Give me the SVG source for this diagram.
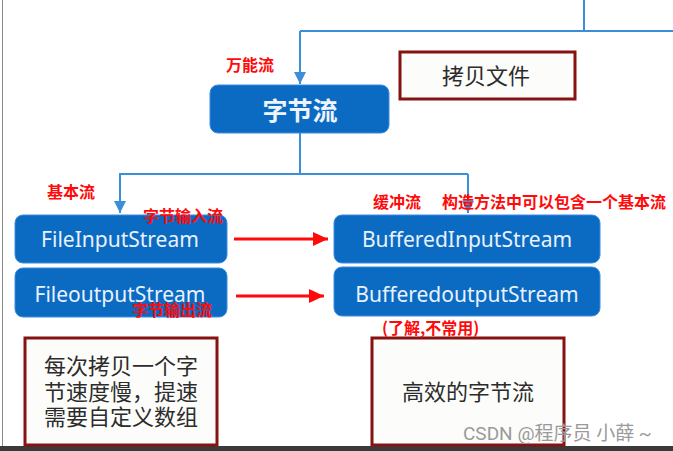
<svg xmlns="http://www.w3.org/2000/svg" width="673" height="451" viewBox="0 0 673 451">
<style>
.blue{fill:#0b6bc3;stroke:#3d8ce0;stroke-width:1}
.wht{fill:#fcfcfa;stroke:#861212;stroke-width:3}
.conn{fill:none;stroke:#3b8ed8;stroke-width:2}
.red{stroke:#ff0a0a;stroke-width:3;fill:none}
.en{font-family:"Noto Sans","Open Sans",sans-serif;font-size:21px;fill:#e9f1fb;text-anchor:middle}
.cn{font-family:"Noto Sans CJK SC",sans-serif;font-size:22px;fill:#2c2c2c;text-anchor:middle}
.lab{font-family:"Noto Sans CJK SC",sans-serif;font-size:16px;font-weight:bold;fill:#ff0a0a}
</style>
<defs>
<marker id="ab" markerUnits="userSpaceOnUse" markerWidth="12" markerHeight="14" refX="12" refY="6" orient="auto">
<path d="M0,0 L12,6 L0,12 Z" fill="#3b8ed8"/>
</marker>
<marker id="ar" markerUnits="userSpaceOnUse" markerWidth="16" markerHeight="14" refX="15" refY="7" orient="auto">
<path d="M0,0 L15,7 L0,14 Z" fill="#ff0a0a"/>
</marker>
</defs>
<rect width="673" height="451" fill="#ffffff"/>
<line x1="2.5" y1="0" x2="2.5" y2="446" stroke="#8a8a8a" stroke-width="1"/>
<rect x="0" y="446" width="673" height="5" fill="#3a3a3a"/>

<g id="connectors">
<path class="conn" d="M584,0 V31 M300,31 H673"/>
<path class="conn" d="M300,31 V84" marker-end="url(#ab)"/>
<path class="conn" d="M300,133 V174 M119,174 H468"/>
<path class="conn" d="M120,174 V213" marker-end="url(#ab)"/>
<path class="conn" d="M468,174 V213" marker-end="url(#ab)"/>
<line class="red" x1="234" y1="239" x2="328" y2="239" marker-end="url(#ar)"/>
<line class="red" x1="236" y1="296" x2="324" y2="296" marker-end="url(#ar)"/>
</g>

<g id="n-bytestream">
<rect class="blue" x="210" y="85" width="179" height="48" rx="8"/>
<text x="300" y="120" font-family="Noto Sans CJK SC,sans-serif" font-size="25" font-weight="bold" fill="#eef4fb" text-anchor="middle">字节流</text>
</g>
<g id="n-copyfile">
<rect class="wht" x="400" y="52" width="175" height="47"/>
<text class="cn" x="486" y="84">拷贝文件</text>
</g>
<g id="n-fis">
<rect class="blue" x="15" y="215" width="212" height="48" rx="8"/>
<text class="en" x="120" y="246.5">FileInputStream</text>
</g>
<g id="n-fos">
<rect class="blue" x="15" y="268" width="212" height="49" rx="8"/>
<text class="en" x="120" y="301.5">FileoutputStream</text>
</g>
<g id="n-bis">
<rect class="blue" x="334" y="215" width="266" height="48" rx="8"/>
<text class="en" x="467" y="246.5">BufferedInputStream</text>
</g>
<g id="n-bos">
<rect class="blue" x="334" y="267" width="266" height="49" rx="8"/>
<text class="en" x="467" y="301.5">BufferedoutputStream</text>
</g>
<g id="n-slow">
<rect class="wht" x="25" y="338" width="192" height="107"/>
<text class="cn" x="121" y="374">每次拷贝一个字</text>
<text class="cn" x="121" y="400">节速度慢，提速</text>
<text class="cn" x="121" y="425">需要自定义数组</text>
</g>
<g id="n-fast">
<rect class="wht" x="372" y="338" width="192" height="107"/>
<text class="cn" x="468" y="400">高效的字节流</text>
</g>

<g id="labels">
<text class="lab" x="226" y="71">万能流</text>
<text class="lab" x="47" y="198">基本流</text>
<text class="lab" x="143" y="222">字节输入流</text>
<text class="lab" x="132" y="316">字节输出流</text>
<text class="lab" x="373" y="208">缓冲流</text>
<text class="lab" x="442" y="208">构造方法中可以包含一个基本流</text>
<text class="lab" x="382" y="334" font-size="15">(了解,不常用)</text>
</g>
<text x="463" y="440" font-family="Roboto,'Noto Sans CJK SC',sans-serif" font-size="19" fill="#9a9a9a">CSDN @程序员 小薛 ~</text>
</svg>
